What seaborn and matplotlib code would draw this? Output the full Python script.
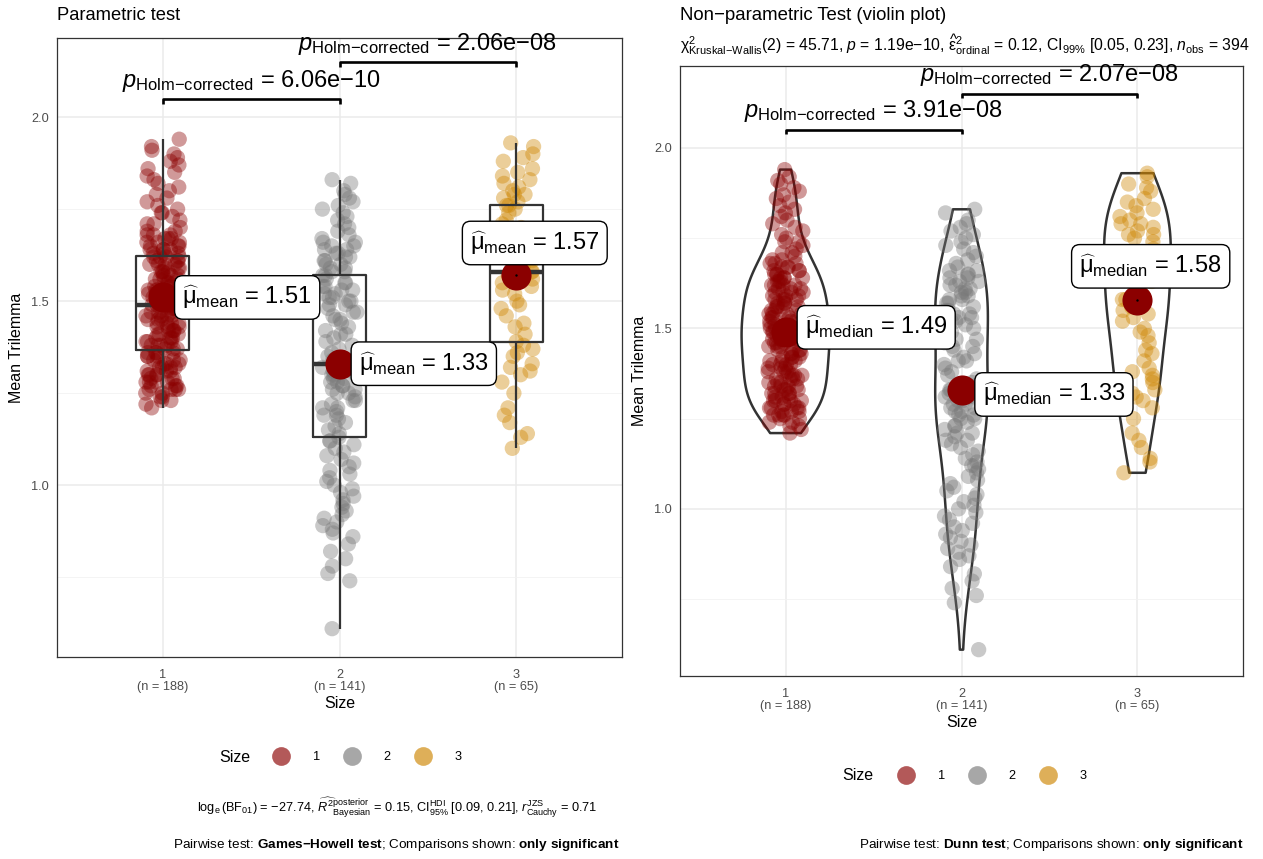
import numpy as np
import pandas as pd
import matplotlib
matplotlib.use("Agg")
import matplotlib.pyplot as plt
import seaborn as sns
from matplotlib.lines import Line2D

# ---------------------------------------------------------------- data
size_levels = ["1", "2", "3"]

size_1 = [
    1.21, 1.22, 1.23, 1.23, 1.24, 1.24, 1.25, 1.25,
    1.26, 1.26, 1.26, 1.26, 1.27, 1.27, 1.27, 1.28, 1.28, 1.28, 1.28, 1.29, 1.29, 1.29,
    1.30, 1.30, 1.30, 1.30, 1.31, 1.31, 1.31, 1.32, 1.32, 1.32, 1.32, 1.33, 1.33, 1.33,
    1.34, 1.34, 1.34, 1.34, 1.35, 1.35, 1.35, 1.36, 1.36, 1.36, 1.36, 1.37, 1.37, 1.37,
    1.38, 1.38, 1.38, 1.38, 1.39, 1.39, 1.39, 1.40, 1.40, 1.40, 1.40, 1.41, 1.41, 1.41,
    1.42, 1.42, 1.42, 1.42, 1.43, 1.43, 1.43, 1.44, 1.44, 1.44, 1.44, 1.45, 1.45, 1.45,
    1.46, 1.46, 1.46, 1.46, 1.47, 1.47, 1.47, 1.47, 1.48, 1.48, 1.48, 1.48,
    1.49, 1.49, 1.49, 1.49, 1.49, 1.50, 1.50, 1.50, 1.50, 1.51, 1.51, 1.51,
    1.52, 1.52, 1.52, 1.52, 1.53, 1.53, 1.53, 1.54, 1.54, 1.54, 1.54, 1.55, 1.55, 1.55,
    1.56, 1.56, 1.56, 1.56, 1.57, 1.57, 1.57, 1.58, 1.58, 1.58, 1.58, 1.59, 1.59, 1.59,
    1.60, 1.60, 1.60, 1.60, 1.61, 1.61, 1.61, 1.62, 1.62, 1.62, 1.62, 1.63, 1.63, 1.63,
    1.64, 1.64, 1.64, 1.64, 1.65, 1.65, 1.65, 1.66, 1.66, 1.66, 1.67, 1.67, 1.67,
    1.68, 1.68, 1.68,
    1.69, 1.69, 1.70, 1.71, 1.71, 1.72, 1.73, 1.74, 1.74, 1.75,
    1.76, 1.77, 1.78, 1.79, 1.80, 1.81, 1.82, 1.83, 1.84, 1.85,
    1.86, 1.87, 1.88, 1.89, 1.90, 1.91, 1.92, 1.94,
]

size_2 = [
    0.61, 0.74, 0.76, 0.78, 0.80, 0.82, 0.84, 0.86, 0.87, 0.88, 0.89, 0.90,
    0.91, 0.92, 0.93, 0.94, 0.95, 0.96, 0.97, 0.98, 0.99, 1.00, 1.01, 1.02,
    1.03, 1.04, 1.05, 1.06, 1.07, 1.08, 1.09, 1.10, 1.11, 1.12, 1.12,
    1.13, 1.14, 1.15, 1.16, 1.17, 1.18, 1.19, 1.19, 1.20, 1.21, 1.21, 1.22,
    1.23, 1.23, 1.24, 1.25, 1.25, 1.26, 1.26, 1.27, 1.27, 1.28, 1.28, 1.29,
    1.29, 1.30, 1.30, 1.31, 1.31, 1.31, 1.32, 1.32, 1.32, 1.33, 1.33,
    1.33, 1.34, 1.34, 1.35, 1.36, 1.37, 1.38, 1.39, 1.40, 1.41, 1.41, 1.42,
    1.43, 1.44, 1.45, 1.45, 1.46, 1.47, 1.47, 1.48, 1.49, 1.49, 1.50, 1.50,
    1.51, 1.51, 1.52, 1.52, 1.53, 1.53, 1.54, 1.54, 1.55, 1.55, 1.56,
    1.57, 1.57, 1.58, 1.58, 1.59, 1.59, 1.60, 1.60, 1.61, 1.61, 1.62, 1.62,
    1.63, 1.63, 1.64, 1.64, 1.65, 1.65, 1.66, 1.66, 1.67, 1.68, 1.69, 1.70,
    1.71, 1.72, 1.73, 1.74, 1.75, 1.76, 1.77, 1.78, 1.79, 1.80, 1.82, 1.83,
]

size_3 = [
    1.10, 1.13, 1.14, 1.17, 1.19, 1.21, 1.25, 1.28, 1.30, 1.31, 1.32, 1.33, 1.35, 1.36, 1.37, 1.38,
    1.39, 1.41, 1.43, 1.44, 1.46, 1.48, 1.49, 1.50, 1.52, 1.53, 1.54, 1.55, 1.56, 1.57, 1.57, 1.58,
    1.58, 1.59, 1.61, 1.62, 1.63, 1.65, 1.66, 1.67, 1.68, 1.69, 1.70, 1.71, 1.72, 1.74, 1.75, 1.76,
    1.76, 1.77, 1.78, 1.79, 1.79, 1.80, 1.81, 1.82, 1.83, 1.84, 1.85, 1.86, 1.88, 1.89, 1.90, 1.92, 1.93,
]

group_means = [1.51, 1.33, 1.57]
group_medians = [1.49, 1.33, 1.58]

pair_groups = [(0, 1), (1, 2)]
p_games_howell = ["6.06e−10", "2.06e−08"]
p_dunn = ["3.91e−08", "2.07e−08"]

size_colors = ["#8B0000", "#787878", "#CD8500"]

values = [size_1, size_2, size_3]
df = pd.DataFrame({
    "Size": np.repeat(size_levels, [len(v) for v in values]),
    "Trilemma": np.concatenate(values),
})

# ---------------------------------------------------------------- style
sns.set_theme(style="whitegrid")
plt.rcParams["font.family"] = ["Liberation Sans", "DejaVu Sans"]
plt.rcParams.update({
    "text.color": "black",
    "axes.labelcolor": "black",
    "mathtext.fontset": "custom",
    "mathtext.rm": "Liberation Sans",
    "mathtext.it": "Liberation Sans:italic",
    "mathtext.bf": "Liberation Sans:bold",
    "mathtext.sf": "Liberation Sans",
})

W, H = 1263, 859
fig = plt.figure(figsize=(W / 100, H / 100), dpi=100)
fig.patch.set_facecolor("white")


def fx(px):
    return px / W


def fy(py):
    return 1 - py / H


ax1 = fig.add_axes([fx(57), fy(657), fx(622) - fx(57), fy(38) - fy(657)])
ax2 = fig.add_axes([fx(680), fy(676), fx(1243) - fx(680), fy(66) - fy(676)])

DARK = "#333333"
np.random.seed(11)


def style_axes(ax, ylim):
    ax.set_xlim(-0.6, 2.6)
    ax.set_ylim(*ylim)
    ax.set_yticks([1.0, 1.5, 2.0])
    ax.set_yticklabels(["1.0", "1.5", "2.0"])
    ax.set_yticks([0.75, 1.25, 1.75], minor=True)
    ax.set_xticks([0, 1, 2])
    ax.set_xticklabels([f"{lvl}\n(n = {len(v)})" for lvl, v in zip(size_levels, values)],
                       linespacing=1.0)
    ax.grid(True, which="major", color="#EBEBEB", lw=1.1, zorder=0)
    ax.grid(True, which="minor", axis="y", color="#F2F2F2", lw=0.6, zorder=0)
    ax.set_axisbelow(True)
    for sp in ax.spines.values():
        sp.set_visible(True)
        sp.set_color(DARK)
        sp.set_linewidth(0.9)
    ax.tick_params(axis="both", which="major", direction="out", length=3.5, width=0.8,
                   color=DARK, labelcolor="#4D4D4D", labelsize=9.2, pad=2.5)
    ax.tick_params(axis="x", which="major", pad=5)
    ax.tick_params(axis="y", which="minor", length=0)
    ax.set_xlabel("Size", fontsize=11.5, color="black", labelpad=2)
    ax.set_ylabel("Mean Trilemma", fontsize=11.5, color="black", labelpad=5)
    ax.set_facecolor("white")


def draw_points(ax):
    sns.stripplot(data=df, x="Size", y="Trilemma", hue="Size", order=size_levels,
                  hue_order=size_levels, palette=size_colors, jitter=0.1, size=11,
                  alpha=0.4, linewidth=0, legend=False, ax=ax, zorder=2)


def draw_centre(ax, centres, kind, label_dx, label_dy):
    ax.scatter(range(3), centres, s=470, color="#8B0000", zorder=5, linewidths=0)
    ax.scatter([2], [centres[2]], s=3, color="black", zorder=5.5, linewidths=0)
    for i, c in enumerate(centres):
        ax.text(i + label_dx[i], c + label_dy[i],
                r"$\widehat{\mathrm{\mu}}_{\mathrm{" + kind + r"}}$ = " + f"{c:.2f}",
                ha="left", va="center", fontsize=17, zorder=7,
                bbox=dict(boxstyle="round,pad=0.33,rounding_size=0.35", fc="white",
                          ec="black", lw=1.0))


def draw_brackets(ax, ys, pvals):
    for (i, j), y, p in zip(pair_groups, ys, pvals):
        ax.plot([i, i, j, j], [y - 0.012, y, y, y - 0.012], color="black", lw=1.9,
                solid_capstyle="butt", zorder=6, clip_on=False)
        ax.annotate(r"$\mathit{p}_{\text{Holm−corrected}}$ = " + p,
                    xy=((i + j) / 2, y), xytext=(0, 4), textcoords="offset points",
                    ha="center", va="bottom", fontsize=17, zorder=6,
                    annotation_clip=False)


# ---------------------------------------------------------------- left: box plot
draw_points(ax1)
sns.boxplot(data=df, x="Size", y="Trilemma", order=size_levels, fill=False, color=DARK,
            width=0.3, linewidth=1.6, showfliers=False, showcaps=False,
            medianprops=dict(linewidth=3.2), ax=ax1)
style_axes(ax1, (0.533, 2.215))
draw_centre(ax1, group_means, "mean", [0.11, 0.11, -0.26], [0, 0, 0.088])
draw_brackets(ax1, [2.049, 2.149], p_games_howell)

# ---------------------------------------------------------------- right: violin plot
draw_points(ax2)
sns.violinplot(data=df, x="Size", y="Trilemma", order=size_levels, fill=False, color=DARK,
               linewidth=1.8, inner=None, cut=0, density_norm="area", width=0.5,
               bw_adjust=1.0, ax=ax2)
style_axes(ax2, (0.537, 2.227))
draw_centre(ax2, group_medians, "median", [0.11, 0.12, -0.33], [0.013, -0.013, 0.092])
draw_brackets(ax2, [2.05, 2.15], p_dunn)

# ---------------------------------------------------------------- titles
fig.text(fx(57), fy(16), "Parametric test", fontsize=13.2, ha="left", va="center")
fig.text(fx(680), fy(15), "Non−parametric Test (violin plot)", fontsize=13.4,
         ha="left", va="center")
fig.text(fx(680), fy(45),
         r"$\mathrm{\chi}^{2}_{\text{Kruskal−Wallis}}$(2) = 45.71, $\mathit{p}$ = 1.19e−10, "
         r"$\widehat{\mathrm{\epsilon}}^{2}_{\mathrm{ordinal}}$ = 0.12, CI$_{99\%}$ [0.05, 0.23], "
         r"$\mathit{n}_{\mathrm{obs}}$ = 394",
         fontsize=11.3, ha="left", va="center")

# ---------------------------------------------------------------- legends
handles = [Line2D([0], [0], marker="o", linestyle="", markersize=13.5, markerfacecolor=c,
                  markeredgewidth=0, alpha=0.65) for c in size_colors]
for size_x, first_x, ly in [(219, 273, 757), (842, 898, 776)]:
    fig.text(fx(size_x), fy(ly), "Size", fontsize=11.5, ha="left", va="center")
    fig.legend(handles, size_levels, ncol=3, loc="center left",
               bbox_to_anchor=(fx(first_x), fy(ly)), frameon=False, fontsize=9.2,
               handlelength=1.2, handletextpad=1.9, columnspacing=1.9,
               borderpad=0, borderaxespad=0)

# ---------------------------------------------------------------- captions
fig.text(fx(397), fy(808),
         r"$\log_{\mathrm{e}}(\mathrm{BF}_{01})$ = −27.74, "
         r"$\widehat{R^{2}}^{\mathrm{posterior}}_{\mathrm{Bayesian}}$ = 0.15, "
         r"CI$^{\mathrm{HDI}}_{95\%}$ [0.09, 0.21], "
         r"$\mathit{r}^{\mathrm{JZS}}_{\mathrm{Cauchy}}$ = 0.71",
         fontsize=9.2, ha="center", va="center")
fig.text(fx(396), fy(845),
         r"Pairwise test: $\mathbf{Games{-}Howell\ test}$; Comparisons shown: $\mathbf{only\ significant}$",
         fontsize=9.7, ha="center", va="center")
fig.text(fx(1243), fy(845),
         r"Pairwise test: $\mathbf{Dunn\ test}$; Comparisons shown: $\mathbf{only\ significant}$",
         fontsize=9.7, ha="right", va="center")

fig.savefig("out.png", dpi=100, facecolor="white")
